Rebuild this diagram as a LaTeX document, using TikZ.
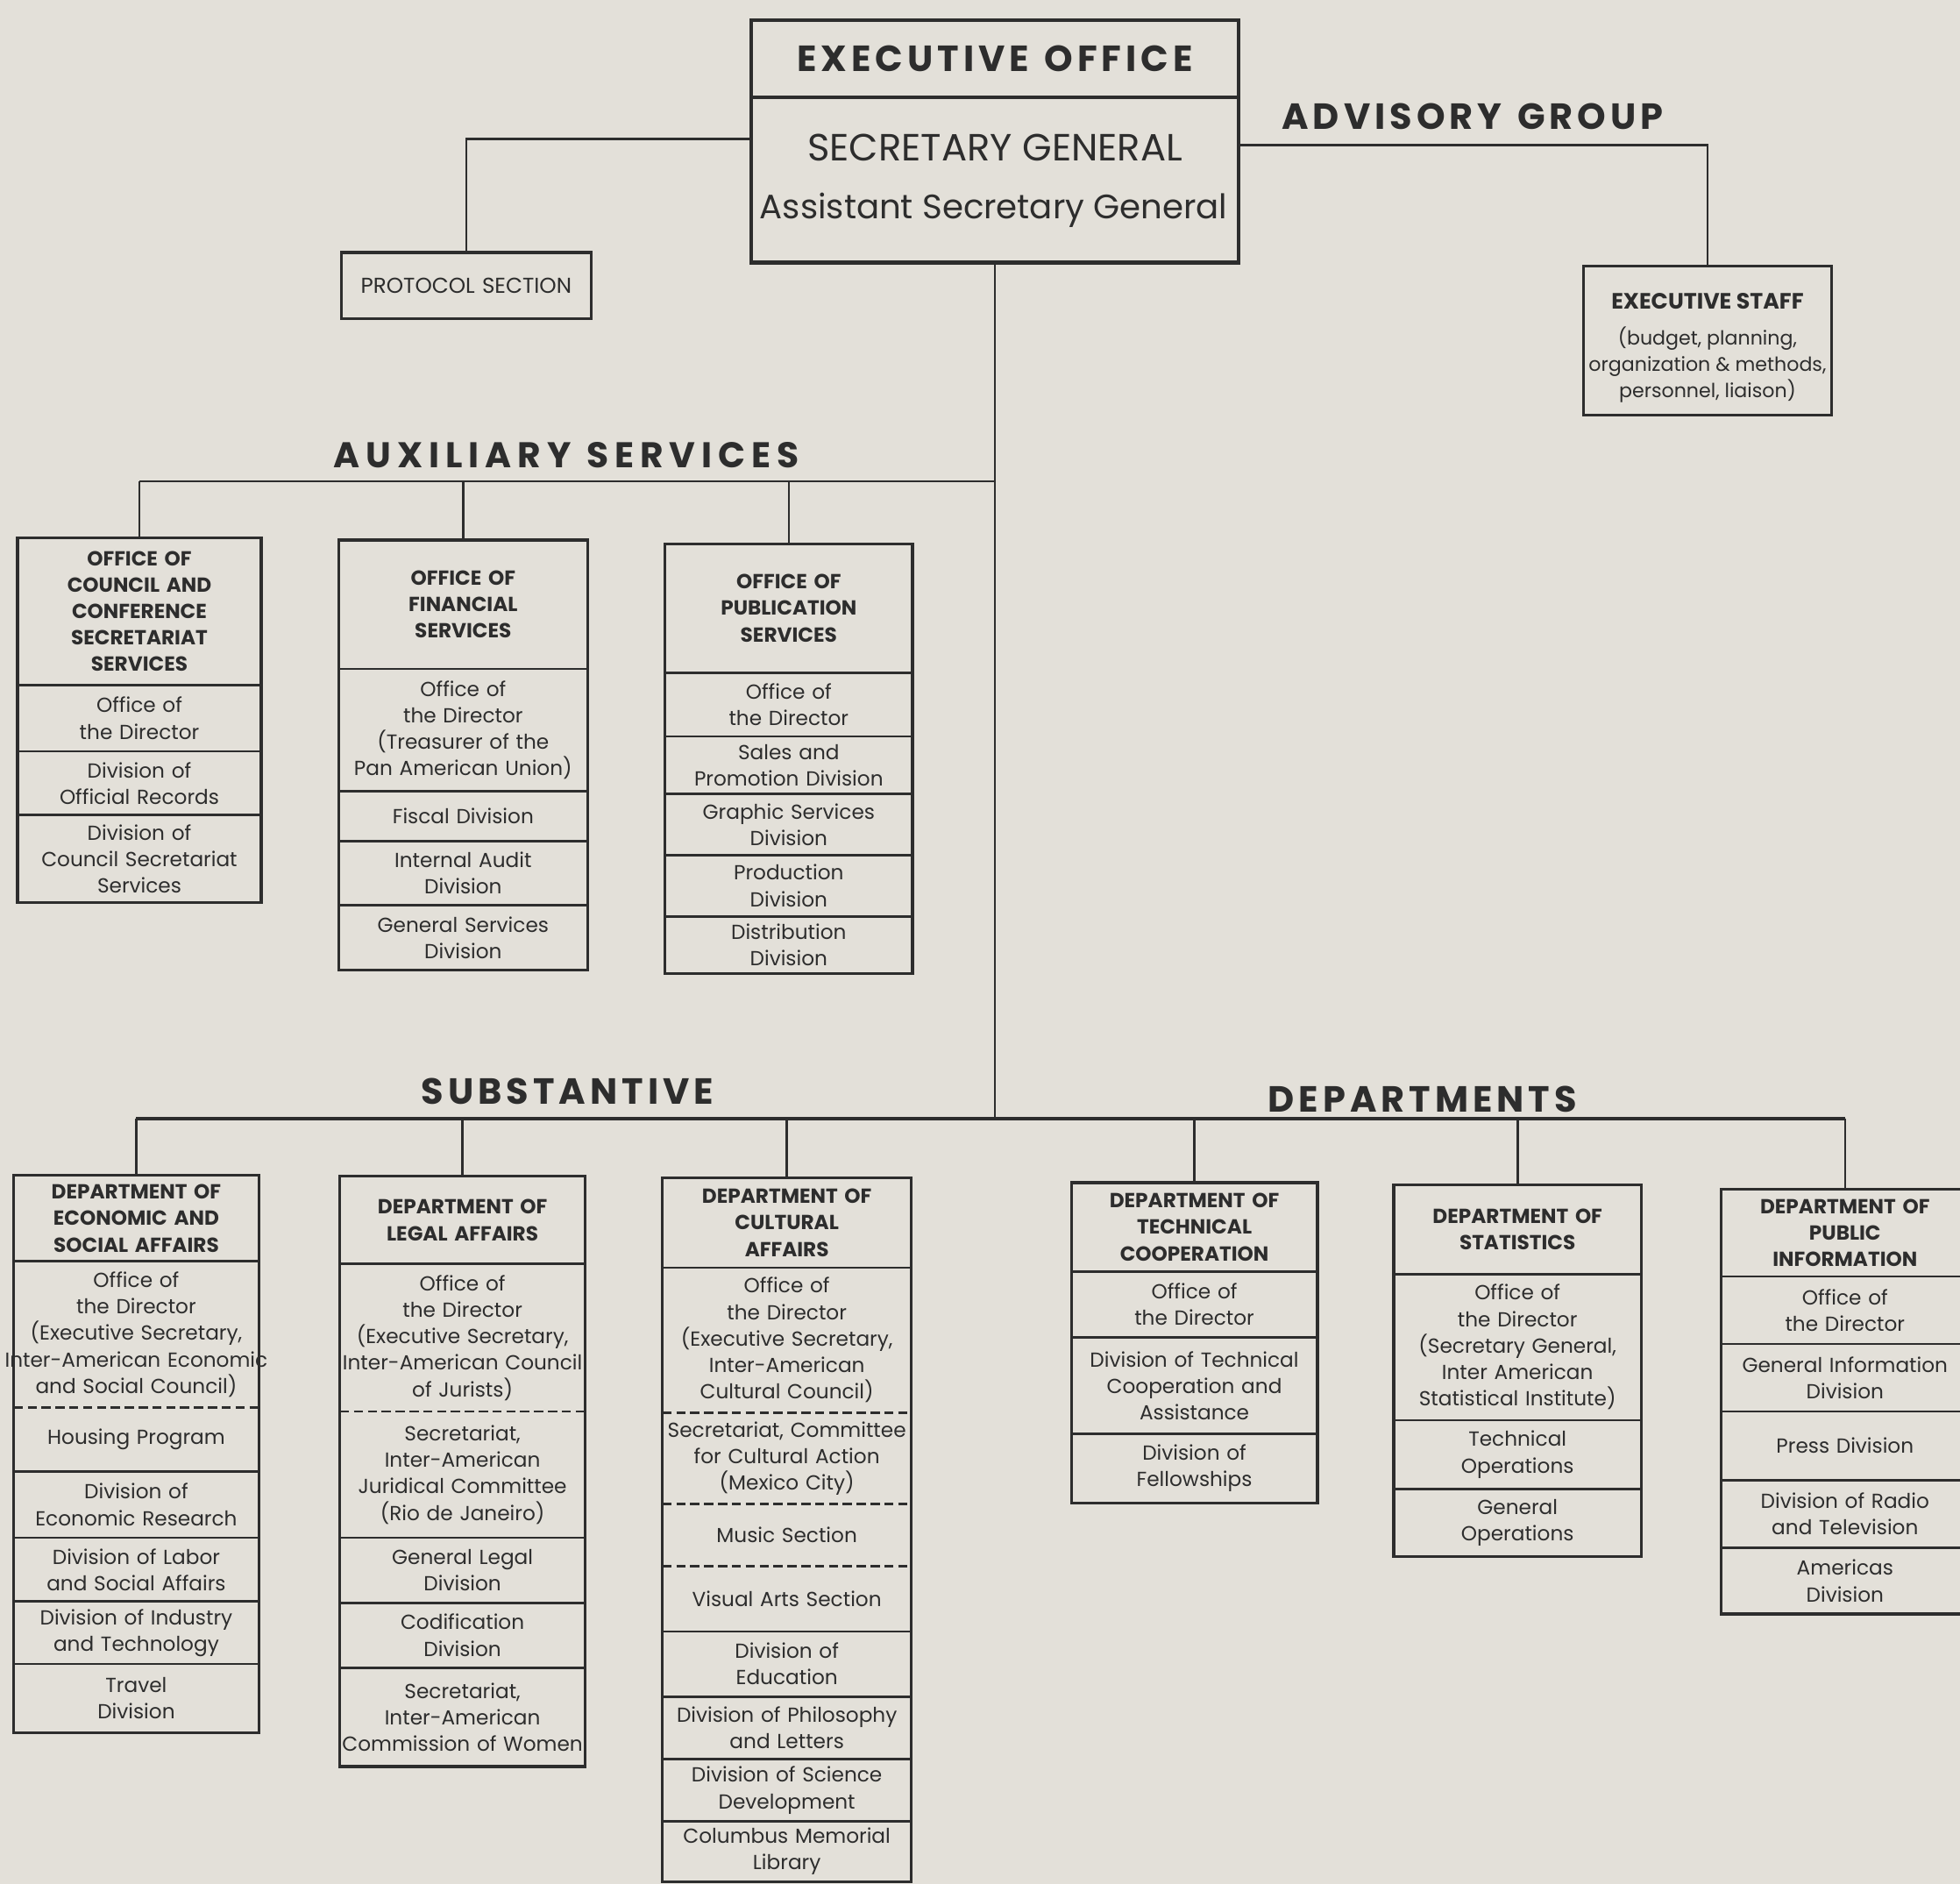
\documentclass[tikz,border=0pt]{standalone}
\usepackage{fontspec}
\setmainfont{Poppins}
\newfontfamily\hfont[LetterSpace=12]{Poppins}
\newfontfamily\hfontw[LetterSpace=17]{Poppins}
\definecolor{paper}{RGB}{227,224,217}
\definecolor{ink}{RGB}{45,45,45}
\newcommand\mksec[7][sec]{%
  \pgfmathsetmacro\secw{(#4-#3)*0.1426}%
  \pgfmathsetmacro\sech{(#6-#5)*0.1426}%
  \node[#1, text width=\secw mm, minimum height=\sech mm] (#2) at ({(#3+#4)/2},{(#5+#6)/2}) {#7};}
\newcommand\oneline[1]{\makebox[\hsize]{#1}}
\tikzset{
  sec/.style={inner sep=0pt, outer sep=0pt, align=center, text=ink, font=\fontsize{6.6}{8.6}\selectfont},
  hd/.style={sec, font=\bfseries\fontsize{6.6}{8.6}\selectfont},
  exsec/.style={sec, font=\hfont\bfseries\fontsize{11.8}{14}\selectfont},
  protosec/.style={sec, font=\fontsize{7}{8.6}\selectfont},
  stafftxt/.style={inner sep=0pt, align=center, text=ink, font=\fontsize{6.3}{8.5}\selectfont},
  staffhd/.style={inner sep=0pt, text=ink, font=\bfseries\fontsize{7.2}{9}\selectfont},
  sgfont/.style={inner sep=0pt, text=ink, font=\fontsize{12.3}{14}\selectfont},
  asgfont/.style={inner sep=0pt, text=ink, font=\fontsize{11}{13}\selectfont},
  lab/.style={inner sep=0pt, text=ink, font=\hfont\bfseries\fontsize{11.8}{14}\selectfont},
  labw/.style={inner sep=0pt, text=ink, font=\hfontw\bfseries\fontsize{11.6}{14}\selectfont},
  boxline/.style={draw=ink, line width=0.9pt},
  exline/.style={draw=ink, line width=1.2pt},
  divline/.style={draw=ink, line width=0.8pt},
  dashdiv/.style={draw=ink, line width=0.8pt, dash pattern=on 3pt off 1.5pt},
  conn/.style={draw=ink, line width=0.75pt},
  hbar/.style={draw=ink, line width=1.1pt},
}
\begin{document}
\begin{tikzpicture}[x=0.1426mm,y=-0.1426mm]
\useasboundingbox (0,0) rectangle (1568,1507);
\fill[paper] (0,0) rectangle (1568,1507);
\clip (0,0) rectangle (1568,1507);

% ---------------- Executive office
\mksec[exsec]{exhead}{601}{991}{16}{78}{EXECUTIVE\hspace{5pt}OFFICE}
\mksec{exmain}{601}{991}{78}{210}{}
\node[sgfont] (sg) at (796,118) {SECRETARY GENERAL};
\node[asgfont] (asg) at (795,168) {Assistant Secretary General};
\draw[exline] (exhead.north west) rectangle (exmain.south east);
\draw[exline] (exmain.north west) -- (exmain.north east);

% protocol
\mksec[protosec]{proto}{273}{473}{202}{255}{PROTOCOL SECTION}
\draw[boxline] (proto.north west) rectangle (proto.south east);
\draw[conn] ([yshift=-4.706mm]exmain.north west) -| (proto.north);

% advisory
\node[lab] (advlab) at (1178,93) {ADVISORY\hspace{5pt}GROUP};
\mksec{staff}{1267}{1465}{213}{332}{}
\node[staffhd] (staffh) at (1366,241) {EXECUTIVE STAFF};
\node[stafftxt] (staffb) at (1366,292) {(budget, planning,\\organization \& methods,\\personnel, liaison)};
\draw[boxline] (staff.north west) rectangle (staff.south east);
\draw[conn] ([yshift=-5.42mm]exmain.north east) -| (staff.north);

% ---------------- Auxiliary services
\coordinate (auxj) at (796,385);
\coordinate (subj) at (796,895);
\draw[conn] (exmain.south) -- (subj);
\node[labw] (auxlab) at (453,364) {AUXILIARY\hspace{5pt}SERVICES};

% council
\mksec[hd]{co0}{14}{209}{430}{548}{OFFICE OF\\COUNCIL AND\\CONFERENCE\\SECRETARIAT\\SERVICES}
\mksec{co1}{14}{209}{548}{601}{Office of\\the Director}
\mksec{co2}{14}{209}{601}{652}{Division of\\Official Records}
\mksec{co3}{14}{209}{652}{722}{Division of\\Council Secretariat\\Services}
\draw[boxline] (co0.north west) rectangle (co3.south east);
\foreach \n in {co1,co2,co3} \draw[divline] (\n.north west) -- (\n.north east);

% financial
\mksec[hd]{fi0}{271}{470}{432}{535}{OFFICE OF\\FINANCIAL\\SERVICES}
\mksec{fi1}{271}{470}{535}{633}{Office of\\the Director\\(Treasurer of the\\\oneline{Pan American Union)}}
\mksec{fi2}{271}{470}{633}{673}{Fiscal Division}
\mksec{fi3}{271}{470}{673}{724}{Internal Audit\\Division}
\mksec{fi4}{271}{470}{724}{776}{General Services\\Division}
\draw[boxline] (fi0.north west) rectangle (fi4.south east);
\foreach \n in {fi1,fi2,fi3,fi4} \draw[divline] (\n.north west) -- (\n.north east);

% publication
\mksec[hd]{pu0}{532}{730}{435}{538}{OFFICE OF\\PUBLICATION\\SERVICES}
\mksec{pu1}{532}{730}{538}{589}{Office of\\the Director}
\mksec{pu2}{532}{730}{589}{635}{Sales and\\Promotion Division}
\mksec{pu3}{532}{730}{635}{684}{Graphic Services\\Division}
\mksec{pu4}{532}{730}{684}{733}{Production\\Division}
\mksec{pu5}{532}{730}{733}{779}{Distribution\\Division}
\draw[boxline] (pu0.north west) rectangle (pu5.south east);
\foreach \n in {pu1,pu2,pu3,pu4,pu5} \draw[divline] (\n.north west) -- (\n.north east);

\draw[conn] (co0.north |- auxj) -- (auxj);
\foreach \n in {co0,fi0,pu0} \draw[conn] (\n.north |- auxj) -- (\n.north);

% ---------------- Substantive departments
\node[lab] (sublab) at (454,873) {SUBSTANTIVE};
\node[lab] (deplab) at (1138,879) {DEPARTMENTS};

% economic and social
\mksec[hd]{ec0}{11}{207}{940}{1009}{DEPARTMENT OF\\ECONOMIC AND\\SOCIAL AFFAIRS}
\mksec{ec1}{11}{207}{1009}{1126}{Office of\\the Director\\(Executive Secretary,\\\oneline{Inter-American Economic}\\and Social Council)}
\mksec{ec2}{11}{207}{1126}{1177}{Housing Program}
\mksec{ec3}{11}{207}{1177}{1230}{Division of\\Economic Research}
\mksec{ec4}{11}{207}{1230}{1281}{Division of Labor\\and Social Affairs}
\mksec{ec5}{11}{207}{1281}{1331}{\oneline{Division of Industry}\\and Technology}
\mksec{ec6}{11}{207}{1331}{1386}{Travel\\Division}
\draw[boxline] (ec0.north west) rectangle (ec6.south east);
\foreach \n in {ec1,ec3,ec4,ec5,ec6} \draw[divline] (\n.north west) -- (\n.north east);
\draw[dashdiv] (ec2.north west) -- (ec2.north east);

% legal
\mksec[hd]{le0}{272}{468}{941}{1011}{DEPARTMENT OF\\LEGAL AFFAIRS}
\mksec{le1}{272}{468}{1011}{1129}{Office of\\the Director\\\oneline{(Executive Secretary,}\\\oneline{Inter-American Council}\\of Jurists)}
\mksec{le2}{272}{468}{1129}{1230}{Secretariat,\\Inter-American\\\oneline{Juridical Committee}\\(Rio de Janeiro)}
\mksec{le3}{272}{468}{1230}{1282}{General Legal\\Division}
\mksec{le4}{272}{468}{1282}{1334}{Codification\\Division}
\mksec{le5}{272}{468}{1334}{1413}{Secretariat,\\Inter-American\\\oneline{Commission of Women}}
\draw[boxline] (le0.north west) rectangle (le5.south east);
\foreach \n in {le1,le3,le4,le5} \draw[divline] (\n.north west) -- (\n.north east);
\draw[dashdiv] (le2.north west) -- (le2.north east);

% cultural
\mksec[hd]{cu0}{530}{729}{942}{1014}{DEPARTMENT OF\\CULTURAL\\AFFAIRS}
\mksec{cu1}{530}{729}{1014}{1130}{Office of\\the Director\\\oneline{(Executive Secretary,}\\Inter-American\\Cultural Council)}
\mksec{cu2}{530}{729}{1130}{1203}{\oneline{Secretariat, Committee}\\for Cultural Action\\(Mexico City)}
\mksec{cu3}{530}{729}{1203}{1253}{Music Section}
\mksec{cu4}{530}{729}{1253}{1305}{Visual Arts Section}
\mksec{cu5}{530}{729}{1305}{1357}{Division of\\Education}
\mksec{cu6}{530}{729}{1357}{1407}{\oneline{Division of Philosophy}\\and Letters}
\mksec{cu7}{530}{729}{1407}{1457}{Division of Science\\Development}
\mksec{cu8}{530}{729}{1457}{1505}{Columbus Memorial\\Library}
\draw[boxline] (cu0.north west) rectangle (cu8.south east);
\foreach \n in {cu1,cu5,cu6,cu7,cu8} \draw[divline] (\n.north west) -- (\n.north east);
\foreach \n in {cu2,cu3,cu4} \draw[dashdiv] (\n.north west) -- (\n.north east);

% technical cooperation
\mksec[hd]{te0}{857}{1054}{946}{1017}{DEPARTMENT OF\\TECHNICAL\\COOPERATION}
\mksec{te1}{857}{1054}{1017}{1070}{Office of\\the Director}
\mksec{te2}{857}{1054}{1070}{1147}{\oneline{Division of Technical}\\Cooperation and\\Assistance}
\mksec{te3}{857}{1054}{1147}{1202}{Division of\\Fellowships}
\draw[boxline] (te0.north west) rectangle (te3.south east);
\foreach \n in {te1,te2,te3} \draw[divline] (\n.north west) -- (\n.north east);

% statistics
\mksec[hd]{st0}{1115}{1313}{948}{1019}{DEPARTMENT OF\\STATISTICS}
\mksec{st1}{1115}{1313}{1019}{1136}{Office of\\the Director\\(Secretary General,\\Inter American\\\oneline{Statistical Institute)}}
\mksec{st2}{1115}{1313}{1136}{1191}{Technical\\Operations}
\mksec{st3}{1115}{1313}{1191}{1245}{General\\Operations}
\draw[boxline] (st0.north west) rectangle (st3.south east);
\foreach \n in {st1,st2,st3} \draw[divline] (\n.north west) -- (\n.north east);

% public information
\mksec[hd]{pi0}{1377}{1575}{951}{1021}{DEPARTMENT OF\\PUBLIC\\INFORMATION}
\mksec{pi1}{1377}{1575}{1021}{1075}{Office of\\the Director}
\mksec{pi2}{1377}{1575}{1075}{1129}{\oneline{General Information}\\Division}
\mksec{pi3}{1377}{1575}{1129}{1184}{Press Division}
\mksec{pi4}{1377}{1575}{1184}{1238}{Division of Radio\\and Television}
\mksec{pi5}{1377}{1575}{1238}{1291}{Americas\\Division}
\draw[boxline] (pi0.north west) rectangle (pi5.south east);
\foreach \n in {pi1,pi2,pi3,pi4,pi5} \draw[divline] (\n.north west) -- (\n.north east);

\draw[hbar] (ec0.north |- subj) -- (pi0.north |- subj);
\foreach \n in {ec0,le0,cu0,te0,st0,pi0} \draw[conn] (\n.north |- subj) -- (\n.north);
\end{tikzpicture}
\end{document}
